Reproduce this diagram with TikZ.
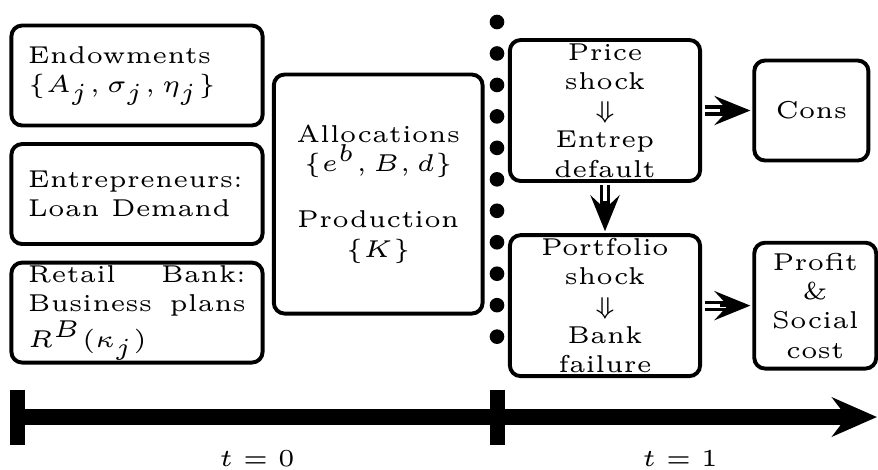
\documentclass[tikz,border=0pt]{standalone}
\usetikzlibrary{positioning,arrows.meta}
\begin{document}
\begin{tikzpicture}[x=0.205pt,y=0.205pt,font=\tiny,
            box/.style={draw,rounded corners=2.2pt,line width=0.8pt,outer sep=0pt,inner ysep=0pt},
            left box/.style={box,text width=44.7pt,inner xsep=3.4pt,minimum height=20.5pt,align=justify},
            shock box/.style={box,minimum width=39pt,minimum height=28.9pt,align=center},
            out box/.style={box,inner xsep=1pt,align=center},
            imp shaft/.style={double,double distance=0.8pt,line width=0.65pt,shorten <=0.9pt,shorten >=5pt},
            imp tip/.style={line width=0.65pt,-{Stealth[length=7.4pt,width=6pt,inset=2.8pt]},shorten <=4pt,shorten >=0.8pt},
            timeline/.style={line width=3.3pt,-{Stealth[length=9.2pt,width=8pt,inset=3pt]}},
            tick/.style={line width=3.1pt}]
    \useasboundingbox (0,0) rectangle (878,469);

    % Define boxes, t = 0
    \node[left box] (endow) at (137,393.5) {Endowments\\ $\{A_j, \sigma_j, \eta_j\}$};
    \node[left box] (entre) [below=3.8pt of endow] {Entrepreneurs:\\ Loan Demand};
    \node[left box] (retail) [below=3.8pt of entre] {Retail Bank: Business plans $R^B(\kappa_j)$};
    \node[box,minimum width=42.8pt,minimum height=49pt,align=center] (alloc) [right=2.3pt of entre] {Allocations\\ $\{e^b, B, d\}$\\[5.5pt] Production\\ $\{K\}$};

    % Define boxes, t = 1
    \node[shock box] (price) at (605,358.5) {Price\\ shock\\ $\Downarrow$\\ Entrep\\ default};
    \node[shock box] (port) [below=11.1pt of price] {Portfolio\\ shock\\ $\Downarrow$\\ Bank\\ failure};
    \node[out box,minimum width=23.4pt,minimum height=20.5pt] (cons) [right=11.1pt of price] {Cons};
    \node[out box,minimum width=25pt,minimum height=25.8pt] (profit) [right=11.1pt of port] {Profit\\ \&\\ Social\\ cost};

    % Draw edges
    \draw[imp shaft] (price) -- (cons);
    \draw[imp tip] (price) -- (cons);
    \draw[imp shaft] (price) -- (port);
    \draw[imp tip] (price) -- (port);
    \draw[imp shaft] (port) -- (profit);
    \draw[imp tip] (port) -- (profit);

    % Dotted divider
    \draw[line width=3pt,line cap=round,dash pattern=on 0pt off 6.45pt] (497,447) -- (497,101);

    % Time line
    \coordinate (t0) at (17.5,52);
    \coordinate (t1) at (497.5,52);
    \coordinate (tend) at (877,52);
    \draw[timeline] (t0) -- (tend);
    \draw[tick] (t0) ++(0,27.5) -- ++(0,-55);
    \draw[tick] (t1) ++(0,27.5) -- ++(0,-55);
    \node[anchor=base] (lab0) at (257,3) {$t = 0$};
    \node[anchor=base] (lab1) at (680,3) {$t = 1$};

\end{tikzpicture}
\end{document}
